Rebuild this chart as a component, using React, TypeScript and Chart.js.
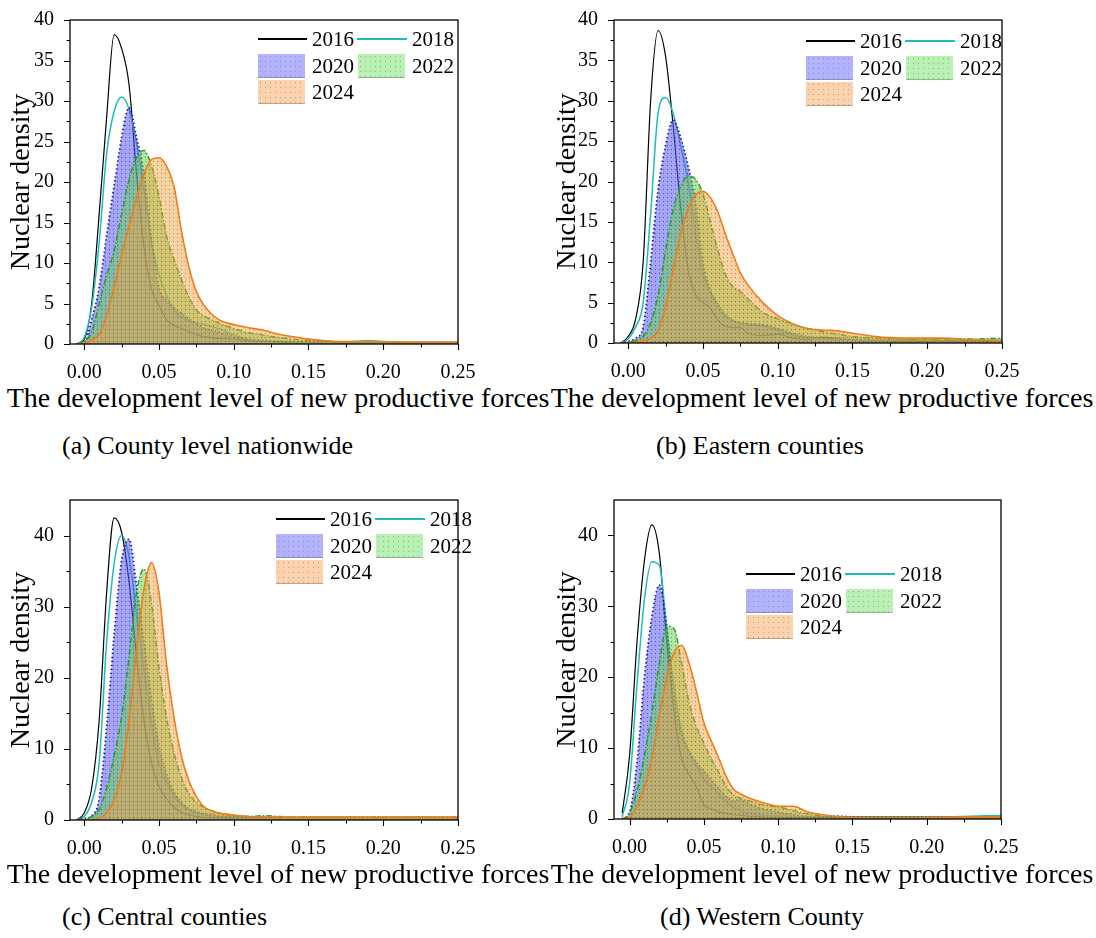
import React, { useEffect, useRef } from 'react';
import { Chart, registerables } from 'chart.js';

Chart.register(...registerables);

const SERIF = '"Liberation Serif", "Times New Roman", Times, serif';
Chart.defaults.font.family = SERIF;

const YEARS = ['2016', '2018', '2020', '2022', '2024'];

// x grid of the kernel density estimates
const XS = [-0.005, 0, 0.005, 0.01, 0.015, 0.02, 0.025, 0.03, 0.035, 0.04, 0.045, 0.05, 0.055, 0.06, 0.065, 0.07, 0.075, 0.08, 0.09, 0.1, 0.11, 0.12, 0.13, 0.14, 0.15, 0.17, 0.19, 0.21, 0.23, 0.25];

// (a) County level nationwide
const A_2016 = [0, 0.6, 5, 16, 28, 38.2, 36.5, 32, 21, 12, 6.8, 4.8, 3.0, 2.3, 1.9, 1.5, 1.2, 0.9, 0.7, 0.6, 0.4, 0.3, 0.2, 0.1, 0.1, 0.1, 0.1, 0.1, 0.1, 0.1];
const A_2018 = [0, 0.8, 4.5, 12.5, 23.5, 28.7, 30.5, 29, 24.7, 19, 12.5, 8.6, 6, 4.2, 3.3, 2.8, 2.6, 2.4, 1.9, 1.1, 0.5, 0.35, 0.3, 0.25, 0.2, 0.2, 0.4, 0.2, 0.2, 0.2];
const A_2020 = [0, 0.2, 3, 7, 13.4, 19.5, 25.5, 29.2, 25.5, 21, 13, 7, 5.4, 4.5, 3.8, 3.1, 2.5, 2.0, 1.5, 0.9, 0.6, 0.45, 0.35, 0.3, 0.25, 0.2, 0.2, 0.2, 0.2, 0.2];
const A_2022 = [0, 0.3, 1.5, 5, 8.5, 11.5, 16, 20.3, 23, 23.9, 22, 18.3, 13.4, 10.5, 8, 5.8, 4.2, 3.5, 2.6, 1.9, 1.4, 1.1, 0.8, 0.6, 0.45, 0.3, 0.25, 0.2, 0.2, 0.2];
const A_2024 = [0, 0.1, 0.5, 1.2, 3.5, 7, 11, 14.5, 18, 21, 22.8, 23, 22, 19.5, 14, 9.5, 6.5, 4.8, 3.0, 2.4, 2.0, 1.7, 1.2, 0.9, 0.6, 0.3, 0.3, 0.25, 0.2, 0.2];

// (b) Eastern counties
const B_2016 = [0, 0.8, 3, 10, 30, 38.7, 35.5, 27, 17, 9.2, 6, 5, 4.3, 2.8, 2.1, 1.9, 1.9, 1.2, 0.9, 1.1, 0.6, 0.4, 0.7, 0.5, 0.3, 0.2, 0.2, 0.2, 0.2, 0.2];
const B_2018 = [0, 0.5, 2, 5, 16, 28.5, 30.4, 28.5, 24.5, 20, 13.5, 8.5, 6.3, 4.8, 3.5, 2.8, 2.5, 2.3, 2.1, 1.6, 1.0, 0.6, 0.5, 0.4, 0.3, 0.3, 0.3, 0.3, 0.3, 0.3];
const B_2020 = [0, 0.2, 0.6, 2, 10, 19, 24.5, 27.6, 25.5, 22, 17.5, 10, 6.5, 4.5, 3.3, 2.7, 2.5, 2.4, 2.3, 1.8, 1.2, 0.8, 0.7, 0.6, 0.5, 0.4, 0.35, 0.3, 0.3, 0.3];
const B_2022 = [0, 0.1, 0.3, 0.8, 2.5, 6, 11.5, 16.5, 19.3, 20.7, 20.3, 18.5, 15, 11.5, 8.5, 7, 6.4, 5.5, 3.8, 3.0, 2.3, 1.8, 1.4, 1.1, 0.8, 0.6, 0.5, 0.5, 0.5, 0.6];
const B_2024 = [0, 0, 0.1, 0.3, 0.6, 1.5, 4.5, 9, 13.5, 16.5, 18.3, 18.8, 18, 16.2, 13.5, 11, 8.7, 7.2, 5, 3.4, 2.4, 1.8, 1.6, 1.5, 1.2, 0.7, 0.6, 0.6, 0.4, 0.3];

// (c) Central counties
const C_2016 = [0, 1, 4.5, 14, 32, 42.5, 40.5, 33.5, 23, 14, 8, 4.7, 3, 1.8, 1.1, 0.7, 0.5, 0.35, 0.25, 0.2, 0.15, 0.15, 0.15, 0.15, 0.15, 0.15, 0.15, 0.15, 0.15, 0.15];
const C_2018 = [0, 0.5, 2.5, 8, 25, 36, 40, 37, 29, 21, 13.5, 8, 5.3, 3.4, 2.2, 1.4, 1.0, 0.7, 0.5, 0.4, 0.35, 0.3, 0.3, 0.3, 0.3, 0.3, 0.3, 0.3, 0.3, 0.3];
const C_2020 = [0, 0.2, 0.6, 3, 13, 26, 36.5, 39.5, 33, 25, 17, 10.5, 6.5, 4, 2.5, 1.6, 1.2, 0.9, 0.6, 0.5, 0.45, 0.4, 0.4, 0.4, 0.4, 0.4, 0.4, 0.4, 0.4, 0.4];
const C_2022 = [0, 0.1, 0.5, 1.5, 4.5, 9, 14.5, 23, 32, 35.3, 30.5, 21.5, 14.5, 9.5, 6, 3.7, 2.5, 1.8, 1.0, 0.6, 0.5, 0.6, 0.5, 0.4, 0.4, 0.4, 0.4, 0.4, 0.4, 0.4];
const C_2024 = [0, 0, 0, 0.2, 1, 2.8, 6.5, 14, 24, 32.5, 36.2, 32, 22, 14.5, 9, 5.5, 3.3, 1.9, 1.0, 0.7, 0.5, 0.45, 0.4, 0.4, 0.4, 0.4, 0.4, 0.4, 0.4, 0.4];

// (d) Western County
const D_2016 = [0.8, 9, 25, 36.5, 41.5, 37.5, 25, 15, 8.5, 6.3, 4.5, 2.0, 1.4, 1.0, 0.8, 0.6, 0.5, 0.4, 0.3, 0.25, 0.2, 0.2, 0.2, 0.2, 0.2, 0.2, 0.2, 0.2, 0.2, 0.2];
const D_2018 = [0.3, 5, 19, 31, 36.3, 35.8, 27, 18.5, 12.5, 9.5, 7.5, 5.6, 4.5, 3.5, 2.4, 1.6, 1.1, 0.8, 0.5, 0.4, 0.35, 0.3, 0.3, 0.3, 0.3, 0.3, 0.3, 0.3, 0.4, 0.5];
const D_2020 = [0, 1, 8, 20, 28.5, 33, 27, 17, 12, 9.5, 8, 6.8, 5.5, 4.3, 3.2, 2.6, 2.8, 2.2, 1.4, 1.0, 0.6, 0.4, 0.3, 0.4, 0.3, 0.25, 0.25, 0.25, 0.25, 0.25];
const D_2022 = [0, 0.8, 4, 9, 15, 22, 27.2, 26.8, 22, 16.5, 13, 10.7, 8.5, 6.6, 4.6, 3.4, 2.9, 2.6, 2.0, 1.7, 1.2, 0.7, 0.4, 0.3, 0.2, 0.2, 0.2, 0.2, 0.2, 0.2];
const D_2024 = [0, 0.2, 1.8, 4.5, 8.5, 14.5, 20, 23.5, 24.5, 22, 18, 13.6, 11, 8.6, 6, 4.2, 3.5, 3.0, 2.3, 1.8, 1.8, 1.0, 0.6, 0.35, 0.25, 0.2, 0.2, 0.25, 0.3, 0.3];

const X_MAJOR = [0, 0.05, 0.1, 0.15, 0.2, 0.25];
const X_MINOR = [0.025, 0.075, 0.125, 0.175, 0.225];
const Y_MAJOR_AB = [0, 5, 10, 15, 20, 25, 30, 35, 40];
const Y_MINOR_AB = [2.5, 7.5, 12.5, 17.5, 22.5, 27.5, 32.5, 37.5];
const Y_MAJOR_CD = [0, 10, 20, 30, 40];
const Y_MINOR_CD = [5, 15, 25, 35];

const X_TITLE = 'The development level of new productive forces';
const Y_TITLE = 'Nuclear density';
const CAPTIONS = ['(a) County level nationwide', '(b) Eastern counties', '(c) Central counties', '(d) Western County'];

type Style = { line: string; width: number; dash: number[]; fill: string | null; dot: string; legend: string };

const STYLES: Style[] = [
  { line: '#000000', width: 1.2, dash: [], fill: null, dot: '', legend: '' },
  { line: '#1dbcbc', width: 1.5, dash: [], fill: null, dot: '', legend: '' },
  { line: '#1c1c8a', width: 1.8, dash: [1.4, 2.6], fill: 'rgba(92,92,255,0.56)', dot: 'rgba(30,30,110,0.6)', legend: '#b3b3fd' },
  { line: '#229e22', width: 1.4, dash: [6, 2, 1.5, 2], fill: 'rgba(100,205,70,0.5)', dot: 'rgba(40,90,30,0.55)', legend: '#b9f0b3' },
  { line: '#f07d18', width: 1.6, dash: [], fill: 'rgba(245,160,65,0.48)', dot: 'rgba(120,70,20,0.55)', legend: '#fcd2ae' },
];

type PanelDef = {
  series: number[][];
  yMax: number;
  yMajor: number[];
  yMinor: number[];
  xMin: number;
  left: number;
  top: number;
  width: number;
  height: number;
  plot: { l: number; t: number; r: number; b: number };
  legend: { x: number; y: number };
  title: { cx: number; cy: number };
  caption: { x: number; cy: number; text: string };
};

const PANELS: PanelDef[] = [
  {
    series: [A_2016, A_2018, A_2020, A_2022, A_2024], yMax: 40, yMajor: Y_MAJOR_AB, yMinor: Y_MINOR_AB, xMin: -0.0095,
    left: 0, top: 0, width: 546, height: 380, plot: { l: 70, t: 14, r: 458, b: 344 },
    legend: { x: 258, y: 39 }, title: { cx: 278, cy: 398 }, caption: { x: 62, cy: 446, text: CAPTIONS[0] },
  },
  {
    series: [B_2016, B_2018, B_2020, B_2022, B_2024], yMax: 40, yMajor: Y_MAJOR_AB, yMinor: Y_MINOR_AB, xMin: -0.0095,
    left: 546, top: 0, width: 550, height: 380, plot: { l: 614, t: 14, r: 1002, b: 343 },
    legend: { x: 806, y: 41 }, title: { cx: 822, cy: 398 }, caption: { x: 656, cy: 446, text: CAPTIONS[1] },
  },
  {
    series: [C_2016, C_2018, C_2020, C_2022, C_2024], yMax: 45, yMajor: Y_MAJOR_CD, yMinor: Y_MINOR_CD, xMin: -0.0095,
    left: 0, top: 480, width: 546, height: 380, plot: { l: 70, t: 493, r: 458, b: 820 },
    legend: { x: 276, y: 519 }, title: { cx: 278, cy: 874 }, caption: { x: 62, cy: 917, text: CAPTIONS[2] },
  },
  {
    series: [D_2016, D_2018, D_2020, D_2022, D_2024], yMax: 45, yMajor: Y_MAJOR_CD, yMinor: Y_MINOR_CD, xMin: -0.0105,
    left: 546, top: 480, width: 550, height: 380, plot: { l: 614, t: 493, r: 1001, b: 819 },
    legend: { x: 746, y: 574 }, title: { cx: 822, cy: 874 }, caption: { x: 660, cy: 917, text: CAPTIONS[3] },
  },
];

function makePattern(base: string, dot: string): CanvasPattern | string {
  const c = document.createElement('canvas');
  c.width = 4;
  c.height = 4;
  const g = c.getContext('2d');
  if (!g) return base;
  g.fillStyle = base;
  g.fillRect(0, 0, 4, 4);
  g.fillStyle = dot;
  g.fillRect(1, 1, 1, 1);
  return g.createPattern(c, 'repeat') || base;
}

function Panel({ p }: { p: PanelDef }) {
  const ref = useRef<HTMLCanvasElement>(null);
  useEffect(() => {
    const canvas = ref.current;
    if (!canvas) return;
    const datasets = p.series.map((vals, i) => {
      const s = STYLES[i];
      return {
        label: YEARS[i],
        data: XS.map((x, k) => ({ x, y: vals[k] })),
        borderColor: s.line,
        borderWidth: s.width,
        borderDash: s.dash,
        backgroundColor: s.fill ? makePattern(s.fill, s.dot) : 'rgba(0,0,0,0)',
        fill: s.fill ? 'origin' : false,
        pointRadius: 0,
        cubicInterpolationMode: 'monotone' as const,
        order: 5 - i,
      };
    });
    const framePlugin = {
      id: 'frameTicks',
      afterDraw(chart: any) {
        const { ctx, chartArea, scales } = chart;
        const { left, top, right, bottom } = chartArea;
        const x = scales.x;
        const y = scales.y;
        ctx.save();
        ctx.setLineDash([]);
        ctx.strokeStyle = '#000';
        ctx.lineWidth = 1.3;
        ctx.strokeRect(left, top, right - left, bottom - top);
        ctx.lineWidth = 1.1;
        ctx.beginPath();
        const xt = (v: number, len: number) => {
          const px = Math.round(x.getPixelForValue(v)) + 0.5;
          ctx.moveTo(px, bottom);
          ctx.lineTo(px, bottom + len);
        };
        const yt = (v: number, len: number) => {
          const py = Math.round(y.getPixelForValue(v)) + 0.5;
          ctx.moveTo(left, py);
          ctx.lineTo(left - len, py);
        };
        X_MAJOR.forEach((v) => xt(v, 6));
        X_MINOR.forEach((v) => xt(v, 3.5));
        p.yMajor.forEach((v) => yt(v, 6));
        p.yMinor.forEach((v) => yt(v, 3.5));
        ctx.stroke();
        ctx.restore();
      },
    };
    const chart = new Chart(canvas, {
      type: 'line',
      data: { datasets: datasets as any },
      options: {
        responsive: false,
        animation: false,
        events: [],
        layout: {
          padding: { left: 0, top: p.plot.t - p.top, right: p.width - (p.plot.r - p.left), bottom: 0 },
        },
        plugins: { legend: { display: false }, tooltip: { enabled: false } },
        scales: {
          x: {
            type: 'linear',
            min: p.xMin,
            max: 0.25,
            grid: { display: false },
            border: { display: false },
            afterBuildTicks: (s: any) => {
              s.ticks = X_MAJOR.map((v) => ({ value: v }));
            },
            afterFit: (s: any) => {
              s.height = p.top + p.height - p.plot.b;
            },
            ticks: {
              font: { family: SERIF, size: 20 },
              color: '#000',
              padding: 9,
              maxRotation: 0,
              autoSkip: false,
              callback: (v: any) => Number(v).toFixed(2),
            },
          },
          y: {
            type: 'linear',
            min: 0,
            max: p.yMax,
            grid: { display: false },
            border: { display: false },
            afterBuildTicks: (s: any) => {
              s.ticks = p.yMajor.map((v) => ({ value: v }));
            },
            afterFit: (s: any) => {
              s.width = p.plot.l - p.left;
            },
            ticks: {
              font: { family: SERIF, size: 20 },
              color: '#000',
              padding: 8,
              autoSkip: false,
              callback: (v: any) => String(v),
            },
            title: {
              display: true,
              text: Y_TITLE,
              color: '#000',
              font: { family: SERIF, size: 28 },
              padding: { top: 5, bottom: 0 },
            },
          },
        },
      },
      plugins: [framePlugin],
    });
    return () => chart.destroy();
  }, [p]);

  const lx = p.legend.x;
  const ly = p.legend.y;
  const rowGap = 26.5;
  const text = (t: string, x: number, cy: number) => (
    <div key={t} style={{ position: 'absolute', left: x, top: cy - 12, fontFamily: SERIF, fontSize: 21, lineHeight: '24px', color: '#000', whiteSpace: 'nowrap' }}>{t}</div>
  );
  const line = (k: string, x: number, cy: number, w: number, s: Style) => (
    <div key={k} style={{ position: 'absolute', left: x, top: Math.round(cy) - 1, width: w, height: 2, background: s.line }} />
  );
  const box = (k: string, x: number, cy: number, s: Style) => (
    <div
      key={k}
      style={{
        position: 'absolute', left: x, top: Math.round(cy) - 12, width: 47, height: 24,
        backgroundColor: s.legend,
        backgroundImage: 'radial-gradient(circle, rgba(70,70,70,0.35) 0.7px, rgba(0,0,0,0) 1px)',
        backgroundSize: '5px 5px',
        boxShadow: 'inset 0 -1px 0 rgba(90,90,90,0.4)',
      }}
    />
  );

  return (
    <>
      <canvas
        ref={ref}
        width={p.width}
        height={p.height}
        style={{ position: 'absolute', left: p.left, top: p.top, width: p.width, height: p.height }}
      />
      {line('l0', lx, ly, 49, STYLES[0])}
      {text(YEARS[0], lx + 54, ly)}
      {line('l1', lx + 99, ly, 50, STYLES[1])}
      {text(YEARS[1], lx + 154, ly)}
      {box('b2', lx, ly + rowGap, STYLES[2])}
      {text(YEARS[2], lx + 54, ly + rowGap)}
      {box('b3', lx + 100, ly + rowGap, STYLES[3])}
      {text(YEARS[3], lx + 154, ly + rowGap)}
      {box('b4', lx, ly + rowGap * 2, STYLES[4])}
      {text(YEARS[4], lx + 54, ly + rowGap * 2)}
      <div style={{ position: 'absolute', left: p.title.cx - 300, width: 600, top: p.title.cy - 16, textAlign: 'center', fontFamily: SERIF, fontSize: 28, lineHeight: '32px', color: '#000', whiteSpace: 'nowrap' }}>{X_TITLE}</div>
      <div style={{ position: 'absolute', left: p.caption.x, top: p.caption.cy - 15, fontFamily: SERIF, fontSize: 26, lineHeight: '30px', color: '#000', whiteSpace: 'nowrap' }}>{p.caption.text}</div>
    </>
  );
}

export default function App() {
  return (
    <div style={{ position: 'absolute', left: 0, top: 0, width: 1096, height: 938, background: '#fff', overflow: 'hidden' }}>
      {PANELS.map((p, i) => (
        <Panel key={i} p={p} />
      ))}
    </div>
  );
}
